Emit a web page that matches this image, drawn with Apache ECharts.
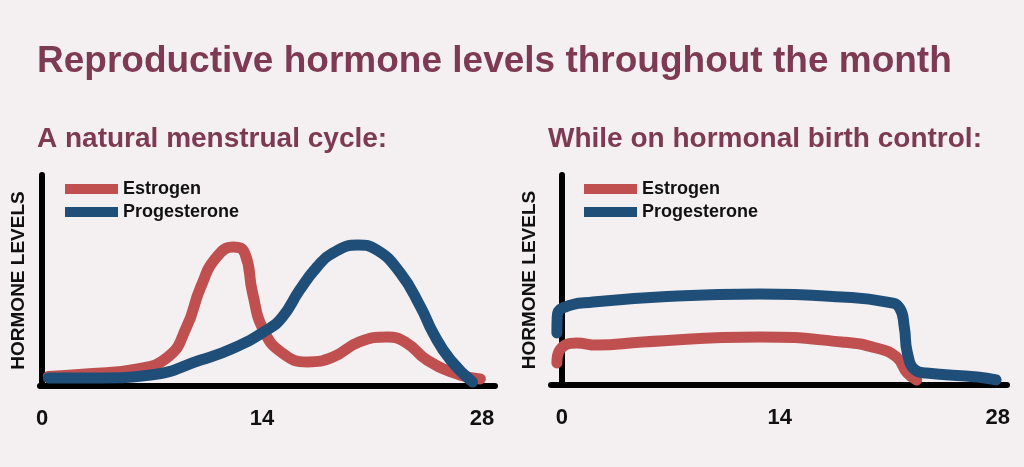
<!DOCTYPE html>
<html>
<head>
<meta charset="utf-8">
<script src="https://cdn.jsdelivr.net/npm/echarts@6/dist/echarts.min.js"></script>
<style>
html,body{margin:0;padding:0;background:#f4f0f1;}
#c{width:1024px;height:467px;}
</style>
</head>
<body>
<div id="c"></div>
<script>
// ---- data ----
const tickDays = [0, 14, 28];
const seriesNames = ['Estrogen', 'Progesterone'];
const titleText = 'Reproductive hormone levels throughout the month';
const panelTitles = ['A natural menstrual cycle:', 'While on hormonal birth control:'];
const yAxisName = 'HORMONE LEVELS';

// natural cycle: [day, relative level]
const naturalEstrogen = [
  [0.4, 4.5], [3, 5.8], [5.8, 7.8], [8.0, 13.7], [9.2, 28], [10.1, 46.9], [11.1, 61],
  [12.2, 65.9], [12.9, 63], [13.4, 44], [14.1, 26.5], [15.3, 15.6], [16.9, 11.4],
  [18.5, 13.7], [20.2, 20.9], [22.0, 23.2], [23.2, 20.4], [24.5, 12.3], [26.6, 5.2], [27.9, 3.3]
];
const naturalProgesterone = [
  [0.4, 3.8], [3.7, 3.8], [6.9, 5.2], [10.1, 12.3], [12.2, 18], [14.3, 26.5], [15.3, 32.7],
  [16.4, 45.5], [17.5, 56.4], [18.5, 63], [20.1, 66.8], [21.3, 64.5], [22.8, 53.6],
  [24.1, 37.4], [24.9, 25], [26.0, 12.3], [27.4, 1.9]
];
// on birth control
const bcEstrogen = [
  [-0.32, 10.5], [-0.13, 16.7], [0.96, 20], [2.25, 19], [5.2, 20.5], [12.7, 22.9],
  [18.0, 20.5], [20.2, 17.6], [21.5, 13.3], [22.2, 5.7], [22.8, 2.4]
];
const bcProgesterone = [
  [-0.32, 24.8], [-0.3, 32.4], [0.06, 36.7], [2.0, 39.5], [7.4, 42.4], [12.7, 43.3],
  [18.0, 41.9], [20.9, 39.5], [21.7, 36.7], [22.0, 27.6], [22.2, 15.2], [22.7, 7.1],
  [23.4, 5.7], [26.7, 3.8], [27.9, 2.4]
];

// ---- styles ----
const FONT = "'Liberation Sans', Arial, sans-serif";
const RED = '#c0504f';
const BLUE = '#1f4e79';
const TITLE = '#7d3a52';

const chart = echarts.init(document.getElementById('c'), null, {renderer: 'canvas'});

function xAxis(gridIndex, min, max) {
  return {
    type: 'value', gridIndex, min, max,
    axisLine: {show: true, lineStyle: {color: '#000', width: 6}},
    axisTick: {show: false},
    splitLine: {show: false},
    axisLabel: {
      customValues: tickDays, margin: 22,
      fontFamily: FONT, fontWeight: 'bold', fontSize: 22, color: '#111'
    }
  };
}
function yAxis(gridIndex) {
  return {
    type: 'value', gridIndex, min: 0, max: 100,
    axisLine: {show: true, lineStyle: {color: '#000', width: 6}},
    axisTick: {show: false}, axisLabel: {show: false}, splitLine: {show: false},
    name: yAxisName, nameLocation: 'middle', nameRotate: 90, nameGap: 12,
    nameTextStyle: {fontFamily: FONT, fontWeight: 'bold', fontSize: 19, color: '#111'}
  };
}
function line(name, data, xi, color) {
  return {
    name, type: 'line', xAxisIndex: xi, yAxisIndex: xi, data,
    smooth: 0.5, showSymbol: false, symbol: 'none',
    lineStyle: {color, width: 11, cap: 'round', join: 'round'},
    itemStyle: {color}, clip: false, animation: false
  };
}
function legend(left) {
  return {
    left, top: 180, padding: 0, orient: 'vertical', itemWidth: 53, itemHeight: 10, itemGap: 5,
    icon: 'rect', data: seriesNames, selectedMode: false,
    textStyle: {fontFamily: FONT, fontWeight: 'bold', fontSize: 18, color: '#111'}
  };
}

chart.setOption({
  backgroundColor: '#f4f0f1',
  animation: false,
  title: [
    {text: titleText, left: 37, top: 43, padding: 0,
     textStyle: {fontFamily: FONT, fontWeight: 'bold', fontSize: 37, color: TITLE}},
    {text: panelTitles[0], left: 37, top: 125, padding: 0,
     textStyle: {fontFamily: FONT, fontWeight: 'bold', fontSize: 28, color: TITLE}},
    {text: panelTitles[1], left: 548, top: 125, padding: 0,
     textStyle: {fontFamily: FONT, fontWeight: 'bold', fontSize: 28, color: TITLE}}
  ],
  legend: [legend(65), legend(584)],
  grid: [
    {left: 40, top: 175, right: 529, bottom: 81},
    {left: 551, top: 175, right: 17, bottom: 82}
  ],
  xAxis: [xAxis(0, -0.13, 28.83), xAxis(1, -0.7, 28.6)],
  yAxis: [yAxis(0), yAxis(1)],
  series: [
    line(seriesNames[0], naturalEstrogen, 0, RED),
    line(seriesNames[1], naturalProgesterone, 0, BLUE),
    line(seriesNames[0], bcEstrogen, 1, RED),
    line(seriesNames[1], bcProgesterone, 1, BLUE)
  ]
});
</script>
</body>
</html>
